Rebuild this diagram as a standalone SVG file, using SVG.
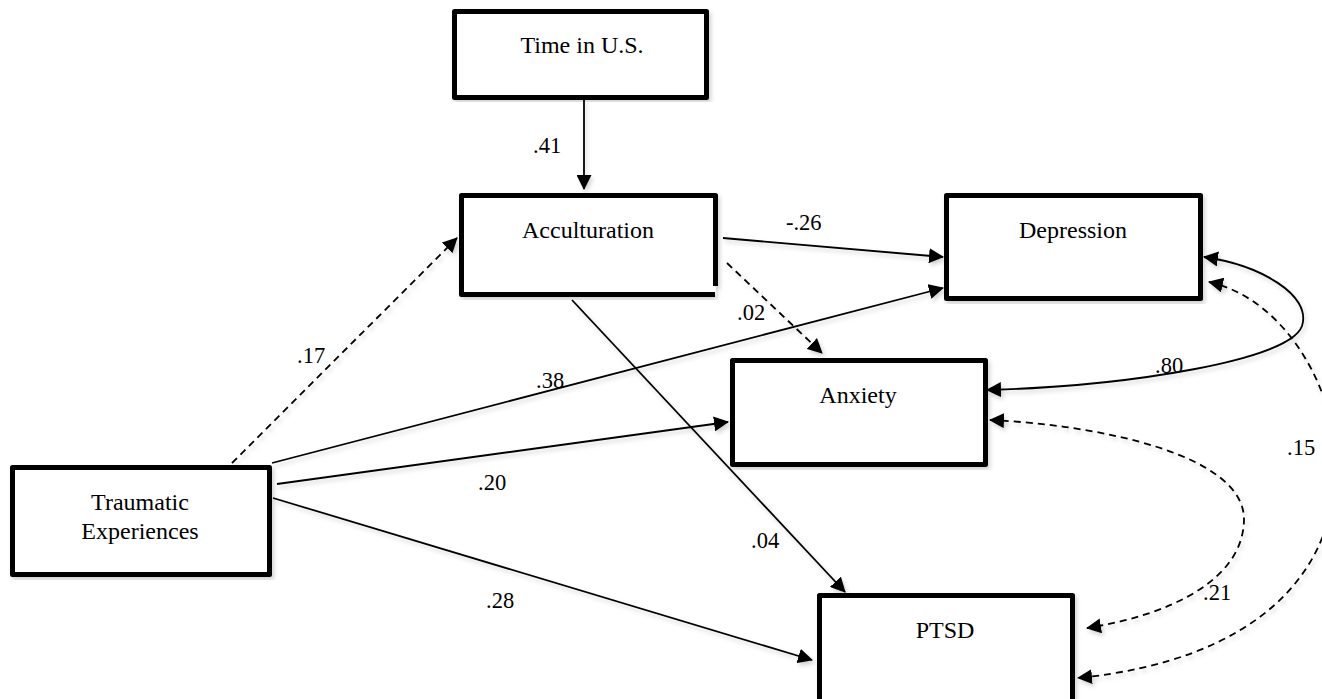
<svg xmlns="http://www.w3.org/2000/svg" width="1322" height="699" viewBox="0 0 1322 699">
  <style>
    .box { fill: #ffffff; stroke: #000000; stroke-width: 5; stroke-linejoin: round; }
    .edge { fill: none; stroke: #000000; stroke-width: 5; }
    .node-label { font-size: 24px; fill: #000000; text-anchor: middle; }
    .coef { font-size: 22.5px; fill: #000000; }
    .path { fill: none; stroke: #000000; stroke-width: 1.8; }
    .dashed { stroke-dasharray: 7 5; }
  </style>
  <defs>
    <marker id="arrow" markerUnits="userSpaceOnUse" markerWidth="15" markerHeight="15" viewBox="0 0 15 15" refX="14" refY="7.5" orient="auto-start-reverse">
      <path d="M0,0 L15,7.5 L0,15 z" fill="#000000"/>
    </marker>
    <filter id="soft-shadow" x="-5%" y="-5%" width="110%" height="110%">
      <feDropShadow dx="2" dy="3" stdDeviation="2" flood-color="#000000" flood-opacity="0.18"/>
    </filter>
  </defs>

  <rect width="1322" height="699" fill="#ffffff"/>

  <!-- path connectors -->
  <g id="connectors" font-family="Liberation Serif, Times New Roman, serif">
    <g filter="url(#soft-shadow)">
      <path class="path" d="M584,100 L584,189" marker-end="url(#arrow)"/>
      <path class="path dashed" d="M232,463 L457,238" marker-end="url(#arrow)"/>
      <path class="path" d="M272,463 L943,288" marker-end="url(#arrow)"/>
      <path class="path" d="M277,484 L728,422" marker-end="url(#arrow)"/>
      <path class="path" d="M273,498 L812,660" marker-end="url(#arrow)"/>
      <path class="path" d="M723,238 L943,257" marker-end="url(#arrow)"/>
      <path class="path dashed" d="M727,263 L822,353" marker-end="url(#arrow)"/>
      <path class="path" d="M572,300 L845,592" marker-end="url(#arrow)"/>
      <!-- correlations -->
      <path class="path" d="M987,390 C1130,386 1290,360 1302,326 C1312,295 1260,265 1204,257" marker-start="url(#arrow)" marker-end="url(#arrow)"/>
      <path class="path dashed" d="M1209,282 C1290,300 1340,400 1335,470 C1335,570 1260,660 1078,678" marker-start="url(#arrow)" marker-end="url(#arrow)"/>
      <path class="path dashed" d="M990,420 C1100,425 1245,455 1244,520 C1243,580 1170,615 1087,628" marker-start="url(#arrow)" marker-end="url(#arrow)"/>
    </g>

    <text class="coef" x="533" y="153">.41</text>
    <text class="coef" x="786" y="230">-.26</text>
    <text class="coef" x="737" y="320">.02</text>
    <text class="coef" x="297" y="363">.17</text>
    <text class="coef" x="536" y="388">.38</text>
    <text class="coef" x="478" y="490">.20</text>
    <text class="coef" x="486" y="608">.28</text>
    <text class="coef" x="751" y="548">.04</text>
    <text class="coef" x="1155" y="373">.80</text>
    <text class="coef" x="1287" y="455">.15</text>
    <text class="coef" x="1203" y="600">.21</text>
  </g>

  <g id="nodes" font-family="Liberation Serif, Times New Roman, serif">
    <g id="time-in-us">
      <rect class="box" x="454.5" y="11.5" width="252" height="86" filter="url(#soft-shadow)"/>
      <text class="node-label" x="582" y="53">Time in U.S.</text>
    </g>

    <g id="acculturation">
      <g filter="url(#soft-shadow)">
        <rect x="461.5" y="195.5" width="254" height="99" fill="#ffffff"/>
        <path class="edge" d="M715.5,286 V195.5 H461.5 V294.5 H715" stroke-linejoin="round"/>
      </g>
      <text class="node-label" x="588" y="238">Acculturation</text>
    </g>

    <g id="depression">
      <rect class="box" x="946.5" y="195.5" width="254" height="103" filter="url(#soft-shadow)"/>
      <text class="node-label" x="1073" y="238">Depression</text>
    </g>

    <g id="anxiety">
      <rect class="box" x="732.5" y="360.5" width="253" height="104" filter="url(#soft-shadow)"/>
      <text class="node-label" x="858" y="403">Anxiety</text>
    </g>

    <g id="traumatic-experiences">
      <rect class="box" x="12.5" y="467.5" width="257" height="107" filter="url(#soft-shadow)"/>
      <text class="node-label" x="140" y="510">Traumatic</text>
      <text class="node-label" x="140" y="539">Experiences</text>
    </g>

    <g id="ptsd">
      <rect class="box" x="819.5" y="595.5" width="253" height="112" filter="url(#soft-shadow)"/>
      <text class="node-label" x="945" y="638">PTSD</text>
    </g>
  </g>
</svg>
